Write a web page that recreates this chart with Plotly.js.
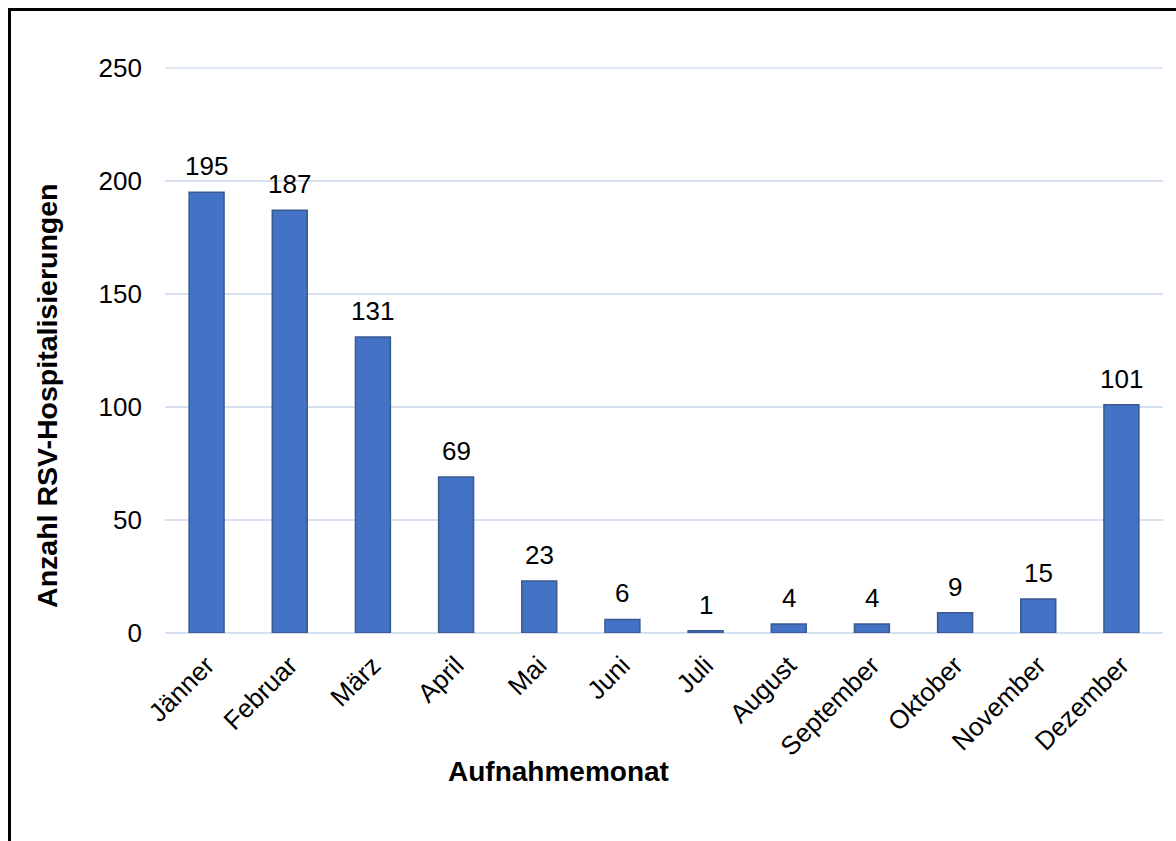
<!DOCTYPE html>
<html>
<head>
<meta charset="utf-8">
<script src="https://cdn.plot.ly/plotly-3.0.1.min.js"></script>
<style>
  html, body { margin: 0; padding: 0; background: #fff; }
  #wrap { position: relative; width: 1176px; height: 841px; }
  #chart { position: absolute; left: 0; top: 0; width: 1176px; height: 841px; }
  #frame { position: absolute; left: 8px; top: 8px; right: 0; bottom: 0;
           border-top: 3px solid #000; border-left: 3px solid #000; pointer-events: none; }
</style>
</head>
<body>
<div id="wrap">
  <div id="chart"></div>
  <div id="frame"></div>
</div>
<script>
const months = ["Jänner", "Februar", "März", "April", "Mai", "Juni", "Juli",
                "August", "September", "Oktober", "November", "Dezember"];
const hospitalizations = [195, 187, 131, 69, 23, 6, 1, 4, 4, 9, 15, 101];
const yTicks = [0, 50, 100, 150, 200, 250];
const xTitle = "Aufnahmemonat";
const yTitle = "Anzahl RSV-Hospitalisierungen";

const FONT = "Liberation Sans, Arial, sans-serif";
const GRID = "#D6E0F0";

const trace = {
  type: "bar",
  x: months,
  y: hospitalizations,
  marker: { color: "#4472C4", line: { color: "#3A5A8F", width: 1.5 } },
  hoverinfo: "x+y"
};

const labels = months.map((m, i) => ({
  x: m, y: hospitalizations[i], xref: "x", yref: "y",
  text: String(hospitalizations[i]), showarrow: false,
  yanchor: "bottom", yshift: 9,
  font: { family: FONT, size: 26, color: "#000" }
}));

labels.push({
  x: 0.394, y: 0, xref: "paper", yref: "paper",
  yanchor: "middle", xanchor: "center", yshift: -138,
  text: "<b>" + xTitle + "</b>", showarrow: false,
  font: { family: FONT, size: 28, color: "#000" }
});

labels.push({
  x: -0.1182, y: 0.419, xref: "paper", yref: "paper",
  xanchor: "center", yanchor: "middle", textangle: -90,
  text: "<b>" + yTitle + "</b>", showarrow: false,
  font: { family: FONT, size: 28.5, color: "#000" }
});

// top gridline (Plotly drops the grid line sitting on the plot edge)
const topTick = yTicks[yTicks.length - 1];
const shapes = [{
  type: "line", xref: "paper", yref: "y", layer: "below",
  x0: 0, x1: 1, y0: topTick, y1: topTick,
  line: { color: GRID, width: 1.5 }
}];

const layout = {
  width: 1176, height: 841,
  margin: { l: 165, r: 13, t: 67, b: 208 },
  paper_bgcolor: "#fff", plot_bgcolor: "#fff",
  showlegend: false,
  bargap: 0.58,
  font: { family: FONT, color: "#000" },
  xaxis: {
    type: "category",
    tickangle: -45,
    tickfont: { family: FONT, size: 26, color: "#000" },
    ticks: "", showgrid: false, showline: false, zeroline: false,
    ticklabelstandoff: 11
  },
  yaxis: {
    range: [0, 250.4],
    tickvals: yTicks,
    ticktext: yTicks.map(String),
    tickfont: { family: FONT, size: 26, color: "#000" },
    ticks: "", showline: false,
    gridcolor: GRID, gridwidth: 1.5,
    zeroline: true, zerolinecolor: GRID, zerolinewidth: 1.5,
    ticklabelstandoff: 22
  },
  shapes: shapes,
  annotations: labels
};

Plotly.newPlot("chart", [trace], layout, { displayModeBar: false, staticPlot: true });
</script>
</body>
</html>
